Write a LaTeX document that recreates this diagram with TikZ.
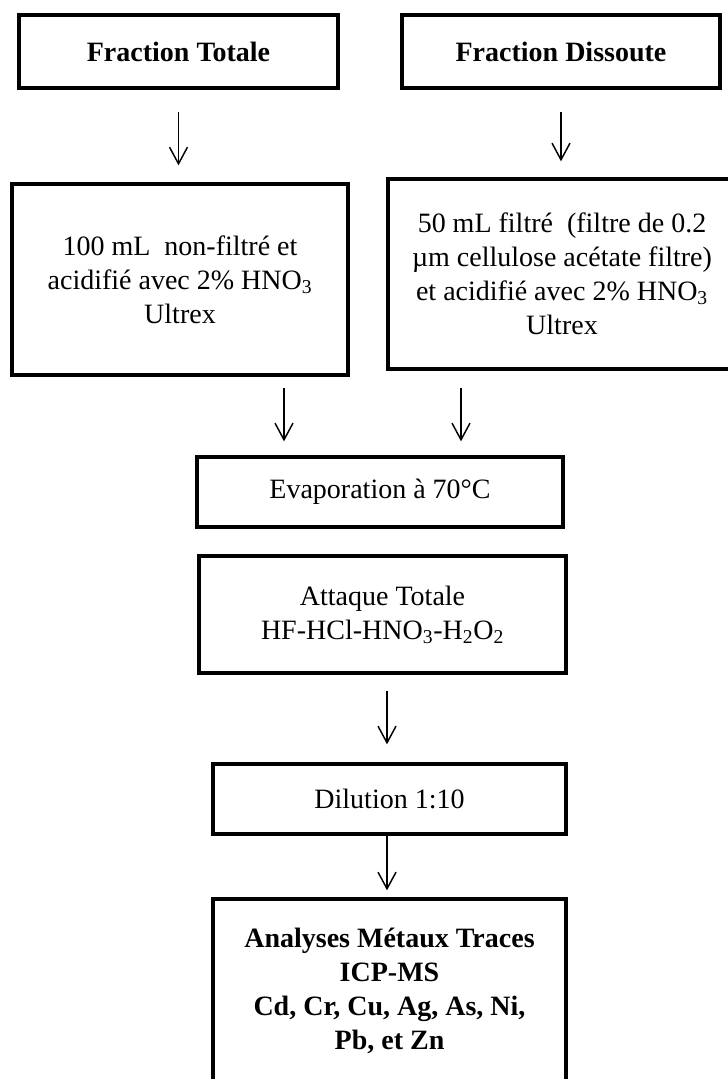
\documentclass[tikz,border=0pt]{standalone}
\usepackage{fontspec}
\setmainfont{Liberation Serif}
\usetikzlibrary{arrows.meta}

\begin{document}
\begin{tikzpicture}[x=0.75pt, y=-0.75pt, >={Straight Barb[length=12.5pt, width=13.5pt]},
	every node/.style={font=\fontsize{21pt}{25.5pt}\selectfont},
	box/.style={draw, line width=2.5pt, align=center, inner sep=0pt},
	boldbox/.style={box, font=\fontsize{21pt}{25.5pt}\selectfont\bfseries},
	flow/.style={->, line width=1.1pt}]
	\useasboundingbox (0,0) rectangle (728,1079);
	% the two fractions
	\node[boldbox, minimum width=239.25pt, minimum height=54.75pt] (totale) at (178.5,51.5) {Fraction Totale};
	\node[boldbox, minimum width=238.5pt, minimum height=54.75pt] (dissoute) at (561,51.5) {Fraction Dissoute};
	\node[box, minimum width=252pt, minimum height=143.25pt] (nonfiltre) at (180,279.5) {100 mL\ \ non-filtré et\\acidifié avec 2\% HNO\textsubscript{3}\\Ultrex};
	\node[box, minimum width=261pt, minimum height=142.5pt] (filtre) at (562,274) {50 mL filtré\ \ (filtre de 0.2\\µm cellulose acétate filtre)\\et acidifié avec 2\% HNO\textsubscript{3}\\Ultrex};
	% common steps
	\node[box, minimum width=274.5pt, minimum height=52.5pt] (evap) at (380,492) {Evaporation à 70°C};
	\node[box, minimum width=275.25pt, minimum height=87.75pt] (attaque) at (382.5,614.5) {Attaque Totale\\HF-HCl-HNO\textsubscript{3}-H\textsubscript{2}O\textsubscript{2}};
	\node[box, minimum width=264.75pt, minimum height=52.5pt] (dilution) at (389.5,799) {Dilution 1:10};
	\node[boldbox, minimum width=264.75pt, minimum height=138pt] (analyses) at (389.5,991) {Analyses Métaux Traces\\ICP-MS\\Cd, Cr, Cu, Ag, As, Ni,\\Pb, et Zn};
	\coordinate (lcol) at (284,0);
	\coordinate (rcol) at (461,0);
	\coordinate (mcol) at (387,0);
	\draw[flow, shorten <=16.5pt, shorten >=12.75pt] (totale.south) -- (totale.south |- nonfiltre.north);
	\draw[flow, shorten <=16.5pt, shorten >=12pt] (dissoute.south) -- (dissoute.south |- filtre.north);
	\draw[flow, shorten <=8.25pt, shorten >=10.5pt] (nonfiltre.south -| lcol) -- (evap.north -| lcol);
	\draw[flow, shorten <=12.75pt, shorten >=10.5pt] (filtre.south -| rcol) -- (evap.north -| rcol);
	\draw[flow, shorten <=12pt, shorten >=13.5pt] (attaque.south -| mcol) -- (dilution.north -| mcol);
	\draw[flow, shorten >=5.25pt] (dilution.south -| mcol) -- (analyses.north -| mcol);
\end{tikzpicture}
\end{document}
